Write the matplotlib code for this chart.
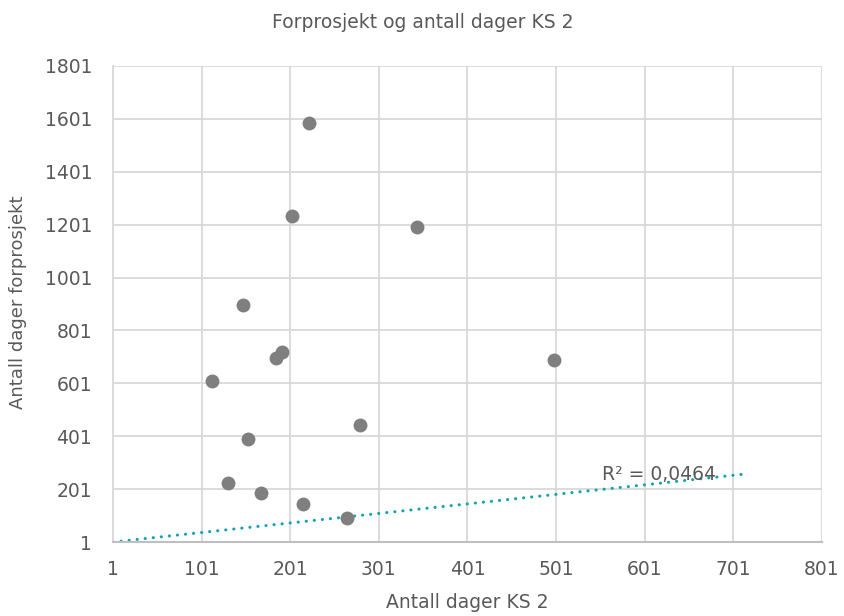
import numpy as np
import matplotlib.pyplot as plt

# data
ks2_days = [113, 148, 153, 131, 168, 185, 192, 203, 215, 222, 265, 280, 344, 499]
forprosjekt_days = [610, 897, 390, 224, 186, 697, 719, 1233, 145, 1585, 92, 443, 1192, 689]

# trendline as drawn (start / end), and its label
trend_x = [1, 714]
trend_y = [1, 258]
r2_label = 'R² = 0,0464'

x_ticks = np.arange(1, 802, 100)
y_ticks = np.arange(1, 1802, 200)

text_col = '#595959'
grid_col = '#d9d9d9'

plt.rcParams['font.family'] = ['DejaVu Sans']

fig = plt.figure(figsize=(8.45, 6.16), dpi=100)
ax = fig.add_axes([0.1337, 0.1201, 0.8391, 0.7728])

ax.scatter(ks2_days, forprosjekt_days, s=100, color='#7f7f7f', zorder=3,
           linewidths=0)
ax.plot(trend_x, trend_y, color='#0fa3b1', lw=2.2, linestyle=(0, (0.05, 2.6)),
        dash_capstyle='round', zorder=2)
ax.text(553, 258, r2_label, ha='left', va='center', fontsize=13.5,
        color=text_col, zorder=4)

ax.set_xlim(1, 801)
ax.set_ylim(1, 1801)
ax.set_xticks(x_ticks)
ax.set_yticks(y_ticks)
ax.grid(True, color=grid_col, lw=1.3)
ax.set_axisbelow(True)
for side in ['top', 'right']:
    ax.spines[side].set_visible(False)
ax.spines['left'].set_color(grid_col)
ax.spines['left'].set_linewidth(1.3)
ax.spines['bottom'].set_color('#bfbfbf')
ax.spines['bottom'].set_linewidth(1.5)
ax.tick_params(length=0, labelsize=13.5, labelcolor=text_col)
ax.tick_params(axis='y', pad=15)
ax.tick_params(axis='x', pad=13)

fig.text(467 / 845, 1 - 602 / 616, 'Antall dager KS 2', ha='center',
         va='center', fontsize=13.5, color=text_col)
fig.text(18 / 845, 1 - 302 / 616, 'Antall dager forprosjekt', ha='center',
         va='center', rotation=90, fontsize=13, color=text_col)
fig.text(0.5, 1 - 22 / 616, 'Forprosjekt og antall dager KS 2', ha='center',
         va='center', fontsize=13.5, color=text_col)

fig.savefig('out.png', dpi=100)
